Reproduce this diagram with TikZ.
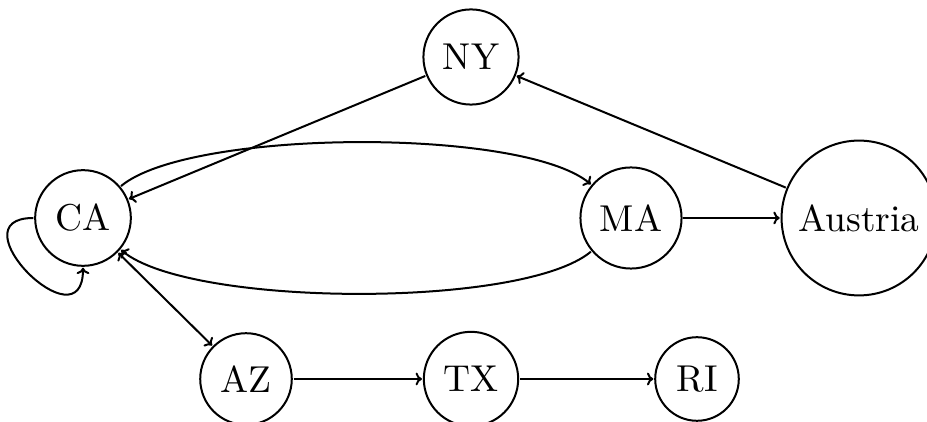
\documentclass[tikz,border=0pt]{standalone}
\usetikzlibrary{arrows.meta}
\begin{document}
\begin{tikzpicture}[x=0.5pt, y=0.5pt,
  state/.style={circle, draw, line width=1pt, scale=1.87, inner sep=0.3333em},
  link/.style={line width=1pt, ->, >={To[length=3.2pt, width=6.4pt]}}]
\useasboundingbox (0,0) rectangle (927,422);

% states
\node[state] (NY) at (471,365) {NY};
\node[state] (CA) at (83,204) {CA};
\node[state] (MA) at (631,204) {MA};
\node[state] (Austria) at (859,204) {Austria};
\node[state] (AZ) at (246,43) {AZ};
\node[state] (TX) at (471,43) {TX};
\node[state] (RI) at (697,43) {RI};

% transitions
\draw[link] (NY) -- (CA);
\draw[link] (Austria) -- (NY);
\draw[link] (MA) -- (Austria);
\draw[link] (CA.40) .. controls +(40:89) and +(140:89) .. (MA.140);
\draw[link] (MA.220) .. controls +(220:89) and +(320:89) .. (CA.320);
\draw[link] (CA.180) .. controls +(180:80) and +(270:80) .. (CA.270);
\draw[link, <->] (CA) -- (AZ);
\draw[link] (AZ) -- (TX);
\draw[link] (TX) -- (RI);
\end{tikzpicture}
\end{document}
